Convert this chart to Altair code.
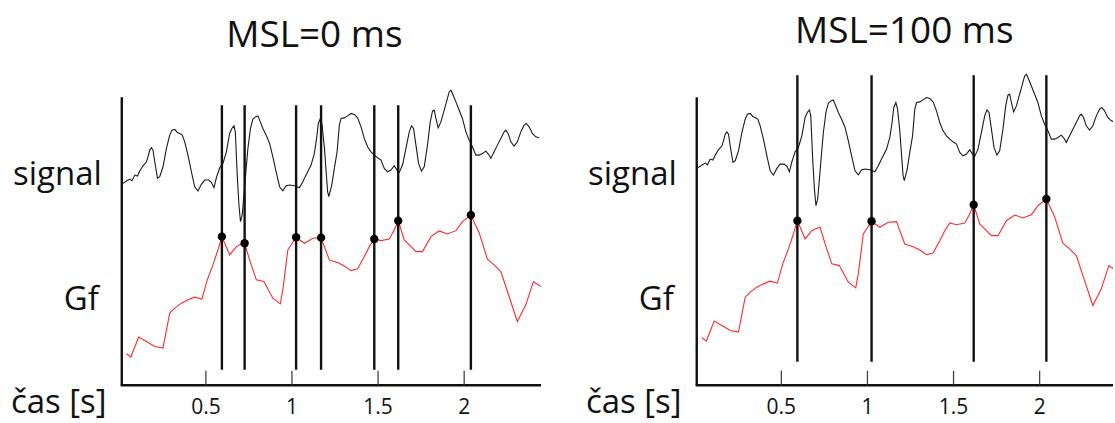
import altair as alt
import pandas as pd

# ---- data (time in s, arbitrary amplitude units) ----
sig_t = [0.012, 0.019, 0.039, 0.058, 0.071, 0.087, 0.103, 0.116, 0.135, 0.155, 0.164, 0.174, 0.184,
         0.193, 0.203, 0.219, 0.232, 0.251, 0.271, 0.290, 0.303, 0.319, 0.334, 0.348, 0.363, 0.377,
         0.396, 0.416, 0.435, 0.454, 0.474, 0.493, 0.516, 0.532, 0.547, 0.561, 0.580, 0.599, 0.619,
         0.638, 0.651, 0.663, 0.671, 0.682, 0.692, 0.701, 0.711, 0.721, 0.734, 0.744, 0.759, 0.773,
         0.788, 0.802, 0.812, 0.831, 0.850, 0.870, 0.889, 0.908, 0.928, 0.947, 0.966, 0.986, 1.014,
         1.043, 1.063, 1.082, 1.111, 1.130, 1.143, 1.153, 1.165, 1.175, 1.188, 1.207, 1.214, 1.231,
         1.246, 1.262, 1.275, 1.285, 1.304, 1.323, 1.343, 1.362, 1.381, 1.401, 1.420, 1.439, 1.459,
         1.478, 1.497, 1.517, 1.536, 1.555, 1.575, 1.594, 1.610, 1.623, 1.642, 1.662, 1.681, 1.694,
         1.706, 1.720, 1.735, 1.752, 1.768, 1.787, 1.803, 1.816, 1.826, 1.836, 1.849, 1.865, 1.884,
         1.900, 1.913, 1.923, 1.932, 1.952, 1.971, 1.990, 2.010, 2.029, 2.048, 2.068, 2.087, 2.106,
         2.126, 2.145, 2.155, 2.174, 2.193, 2.213, 2.232, 2.242, 2.255, 2.271, 2.290, 2.309, 2.329,
         2.348, 2.361, 2.377, 2.396, 2.416, 2.435]
sig_v = [216, 216.7, 219, 221, 219.3, 225, 224, 229, 234.3, 238.3, 243.3, 250, 252.3,
         250, 238.3, 221.7, 223.3, 233.3, 251.7, 265, 270, 270.7, 267.7, 266.7, 265, 258.3,
         245, 228.3, 213.3, 209, 215.7, 220, 220, 217.7, 212.3, 222.3, 232.3, 236.7, 248.3,
         266.7, 271.7, 274.3, 268.3, 225, 195, 178.3, 185, 205, 231.7, 251.7, 271.7, 281,
         283.3, 284.3, 280, 271.7, 265, 256.7, 243.3, 228.3, 213.3, 209.3, 214.3, 215, 214.3,
         212.3, 218.3, 225, 235, 246.7, 261.7, 276.7, 281.7, 275, 253, 208.3, 203.5, 215,
         231.7, 248.3, 275, 281.7, 282.3, 284.3, 286.7, 285.7, 282.3, 273.3, 261.7, 253.3, 248.3,
         245, 242.3, 240, 231.7, 228.3, 230, 234.3, 230, 227.7, 235, 251.7, 268.3, 274.3,
         271.7, 255, 236.7, 229, 233.3, 255, 278.3, 289, 290, 281.7, 272.3, 278.3, 290,
         300, 308.3, 310, 306.7, 298.3, 290, 281.7, 268.3, 260, 253.3, 245, 245, 246.7,
         249, 245, 241.7, 248.3, 255, 261.7, 268.3, 270, 266.7, 258.3, 254, 258.3, 268.3,
         275, 276.7, 273.3, 266.7, 263.3, 262.3]

gf_t = [0.039, 0.064, 0.110, 0.155, 0.203, 0.251, 0.290, 0.319, 0.358, 0.396, 0.435, 0.477, 0.508,
        0.541, 0.570, 0.593, 0.638, 0.677, 0.696, 0.725, 0.754, 0.793, 0.837, 0.889, 0.932, 0.947,
        0.976, 0.995, 1.024, 1.072, 1.121, 1.169, 1.188, 1.217, 1.266, 1.304, 1.343, 1.381, 1.420,
        1.449, 1.478, 1.517, 1.565, 1.594, 1.617, 1.652, 1.691, 1.720, 1.758, 1.807, 1.855, 1.903,
        1.952, 1.990, 2.039, 2.087, 2.135, 2.174, 2.213, 2.261, 2.309, 2.358, 2.402, 2.444]
gf_v = [46, 42.7, 62.7, 58.3, 53.3, 51.7, 86.7, 91.7, 96.7, 100, 102.7, 100.7, 120,
        135, 150, 163.3, 145, 153.3, 155, 156.7, 140, 120, 118.3, 101.7, 96, 110,
        150, 155, 162.7, 156.7, 161.7, 162.3, 153.3, 140, 137.3, 134, 129.3, 131, 143.3,
        153.3, 161, 159.3, 161, 170, 179.3, 160, 153.3, 148.3, 148.3, 163.3, 169, 166,
        169.3, 178.3, 185, 167.3, 140.7, 135, 128.3, 103.3, 78.3, 95, 118.3, 113.3]

peaks_msl0_t = [0.593, 0.725, 1.024, 1.169, 1.478, 1.617, 2.039]
peaks_msl0_v = [163.3, 156.7, 162.7, 162.3, 161, 179.3, 185]
peaks_msl100_t = [0.593, 1.024, 1.617, 2.039]
peaks_msl100_v = [163.3, 162.7, 179.3, 185]

tick_vals = [0.5, 1, 1.5, 2]
tick_labels = ["0.5", "1", "1.5", "2"]
panel_titles = ["MSL=0 ms", "MSL=100 ms"]
row_labels = ["signal", "Gf", "čas [s]"]

# ---- layout ----
PX_PER_S = 172.5
H = 423
FONT = "Open Sans"

sig_df = pd.DataFrame({"t": sig_t, "v": sig_v})
gf_df = pd.DataFrame({"t": gf_t, "v": gf_v})
ticks_df = pd.DataFrame({"t": tick_vals, "label": tick_labels})
one = pd.DataFrame({"a": [0]})


def panel(width, zero_px, y_shift, pk_t, pk_v, title, title_x, title_y, rule_top, rule_bottom):
    xs = alt.Scale(domain=[-zero_px / PX_PER_S, (width - zero_px) / PX_PER_S], nice=False, zero=False)
    ys = alt.Scale(domain=[-23 - y_shift, 400 - y_shift], nice=False, zero=False)
    X = alt.X("t:Q", scale=xs, axis=None)
    Y = alt.Y("v:Q", scale=ys, axis=None)
    pk_df = pd.DataFrame({"t": pk_t, "v": pk_v})

    signal = alt.Chart(sig_df).mark_line(color="#1a1a1a", strokeWidth=1.1, clip=True).encode(x=X, y=Y)
    gf = alt.Chart(gf_df).mark_line(color="#ff2a2a", strokeWidth=1.1, clip=True).encode(x=X, y=Y)
    rules = alt.Chart(pk_df).mark_rule(color="#111111", strokeWidth=2.4).encode(
        x=X, y=alt.value(rule_top), y2=alt.value(rule_bottom))
    dots = alt.Chart(pk_df).mark_circle(color="black", opacity=1, size=70).encode(x=X, y=Y)

    ax_v = alt.Chart(one).mark_rule(color="#111111", strokeWidth=2.4).encode(
        x=alt.value(122), y=alt.value(97), y2=alt.value(386))
    ax_h = alt.Chart(one).mark_rule(color="#111111", strokeWidth=2.4).encode(
        x=alt.value(121), x2=alt.value(min(width, 542)), y=alt.value(385.5))
    ticks = alt.Chart(ticks_df).mark_rule(color="#444444", strokeWidth=1.3).encode(
        x=X, y=alt.value(371), y2=alt.value(385))
    tick_text = alt.Chart(ticks_df).mark_text(font=FONT, fontSize=21, color="#111111",
                                              baseline="alphabetic", align="center").encode(
        x=X, y=alt.value(414), text="label:N")

    lab_signal = alt.Chart(one).mark_text(font=FONT, fontSize=33, color="#111111", align="right",
                                          baseline="alphabetic").encode(
        x=alt.value(102), y=alt.value(185), text=alt.value(row_labels[0]))
    lab_gf = alt.Chart(one).mark_text(font=FONT, fontSize=33, color="#111111", align="right",
                                      baseline="alphabetic").encode(
        x=alt.value(99), y=alt.value(310), text=alt.value(row_labels[1]))
    lab_cas = alt.Chart(one).mark_text(font=FONT, fontSize=33, color="#111111", align="left",
                                       baseline="alphabetic").encode(
        x=alt.value(11), y=alt.value(413), text=alt.value(row_labels[2]))
    ttl = alt.Chart(one).mark_text(font=FONT, fontSize=37, color="#111111", align="center",
                                   baseline="alphabetic").encode(
        x=alt.value(title_x), y=alt.value(title_y), text=alt.value(title))

    return alt.layer(signal, gf, rules, dots, ax_v, ax_h, ticks, tick_text,
                     lab_signal, lab_gf, lab_cas, ttl).properties(width=width, height=H)


p1 = panel(576, 120, 0, peaks_msl0_t, peaks_msl0_v, panel_titles[0], 315, 47, 105, 370)
p2 = panel(539, 120.5, 16, peaks_msl100_t, peaks_msl100_v, panel_titles[1], 330, 43, 75, 362)

chart = alt.hconcat(p1, p2, spacing=0).properties(padding=0, background="white").configure_view(stroke=None)

chart.save("out.html", embed_options={"renderer": "svg", "actions": False})
